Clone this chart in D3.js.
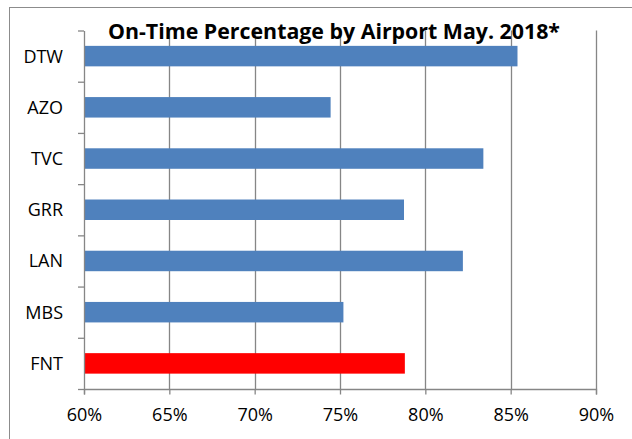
<!DOCTYPE html>
<html>
<head>
<meta charset="utf-8">
<script src="https://cdn.jsdelivr.net/npm/d3@7"></script>
<style>
  body { margin: 0; background: #fff; }
  svg text { font-family: "Open Sans", "DejaVu Sans", sans-serif; fill: #000; }
</style>
</head>
<body>
<script>
// chart data
const airports = ["DTW", "AZO", "TVC", "GRR", "LAN", "MBS", "FNT"];
const onTime = [0.854, 0.7445, 0.834, 0.7875, 0.822, 0.752, 0.788];
const barColors = ["#4F81BD", "#4F81BD", "#4F81BD", "#4F81BD", "#4F81BD", "#4F81BD", "#FF0000"];
const xTicks = [0.6, 0.65, 0.7, 0.75, 0.8, 0.85, 0.9];
const title = "On-Time Percentage by Airport May. 2018*";

const w = 632;
const h = 439;
const marginTop = 30.5;
const marginBottom = 50;
const marginLeft = 84;
const marginRight = 36;
const gridColor = "#868686";

const svg = d3.select("body").append("svg")
  .attr("width", w)
  .attr("height", h);

// outer chart border (only left/top fall inside the frame)
svg.append("rect")
  .attr("x", 9.5)
  .attr("y", 7.5)
  .attr("width", w + 20)
  .attr("height", h + 20)
  .attr("fill", "none")
  .attr("stroke", "#8c8c8c")
  .attr("stroke-width", 1);

const xScale = d3.scaleLinear()
  .domain([0.6, 0.9])
  .range([marginLeft, w - marginRight]);

const yScale = d3.scaleBand()
  .domain(airports)
  .range([marginTop, h - marginBottom])
  .paddingInner(0.6)
  .paddingOuter(0.3);

// boundaries between categories, for the y ticks
const yEdge = d3.scaleLinear()
  .domain([0, airports.length])
  .range([marginTop, h - marginBottom]);

// vertical gridlines
svg.append("g")
  .selectAll("line")
  .data(xTicks.slice(1))
  .enter()
  .append("line")
  .attr("x1", (d) => Math.round(xScale(d)) + 0.5)
  .attr("x2", (d) => Math.round(xScale(d)) + 0.5)
  .attr("y1", marginTop)
  .attr("y2", h - marginBottom)
  .attr("stroke", gridColor)
  .attr("stroke-width", 1.3);

// bars
svg.append("g")
  .selectAll("rect")
  .data(airports)
  .enter()
  .append("rect")
  .attr("x", xScale(0.6))
  .attr("y", (d) => yScale(d))
  .attr("width", (d, i) => xScale(onTime[i]) - xScale(0.6))
  .attr("height", yScale.bandwidth())
  .attr("fill", (d, i) => barColors[i]);

// x axis
const xAxis = svg.append("g")
  .attr("transform", `translate(0,${h - marginBottom})`)
  .call(d3.axisBottom(xScale)
    .tickValues(xTicks)
    .tickSize(5.5)
    .tickPadding(14)
    .tickFormat(d3.format(".0%")));
xAxis.select(".domain").attr("stroke", gridColor).attr("stroke-width", 1.3);
xAxis.selectAll(".tick line").attr("stroke", gridColor).attr("stroke-width", 1.3);
xAxis.selectAll(".tick text")
  .attr("font-size", "18px")
  .attr("font-family", "Open Sans, sans-serif")
  .attr("fill", "#000");

// y axis line and ticks
const yAxis = svg.append("g")
  .attr("transform", `translate(${marginLeft},0)`)
  .call(d3.axisLeft(yEdge)
    .tickValues(d3.range(airports.length + 1))
    .tickSize(6)
    .tickSizeOuter(0)
    .tickFormat(""));
yAxis.select(".domain").attr("stroke", gridColor).attr("stroke-width", 1.3);
yAxis.selectAll(".tick line").attr("stroke", gridColor).attr("stroke-width", 1.3);

// category labels
svg.append("g")
  .selectAll("text")
  .data(airports)
  .enter()
  .append("text")
  .attr("x", 63)
  .attr("y", (d) => yScale(d) + yScale.bandwidth() / 2)
  .attr("dy", "0.36em")
  .attr("text-anchor", "end")
  .attr("font-size", "18px")
  .text((d) => d);

// title
svg.append("text")
  .attr("x", 334)
  .attr("y", 38.5)
  .attr("text-anchor", "middle")
  .attr("font-size", "22px")
  .attr("font-weight", "bold")
  .attr("textLength", 452)
  .attr("lengthAdjust", "spacingAndGlyphs")
  .text(title);
</script>
</body>
</html>
